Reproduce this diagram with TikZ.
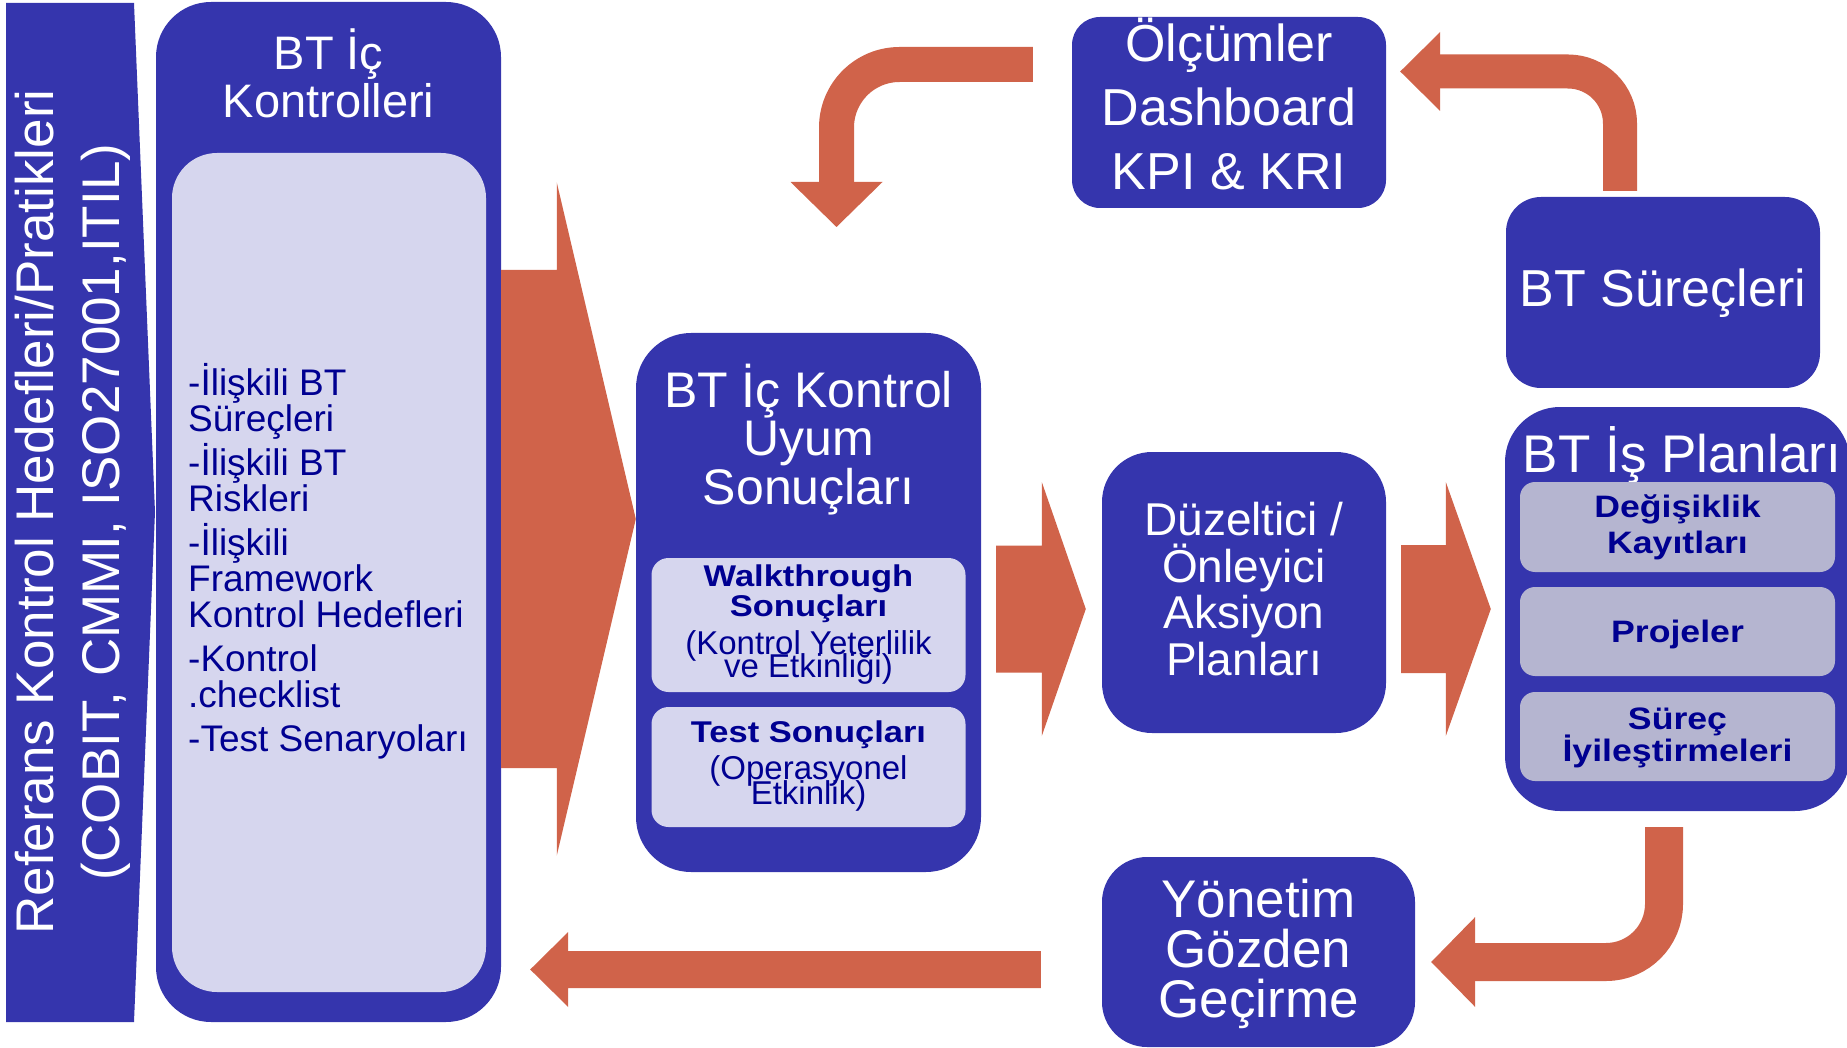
\documentclass[tikz,border=0pt]{standalone}
\usepackage{fontspec}
\setmainfont{Liberation Sans}
\newfontfamily\widebold[FakeStretch=1.15]{Liberation Sans}
\usetikzlibrary{calc}
\lineskiplimit=-100pt

\definecolor{boxblue}{RGB}{53,53,173}
\definecolor{paleblue}{RGB}{214,214,238}
\definecolor{greyblue}{RGB}{181,181,208}
\definecolor{textnavy}{RGB}{0,0,145}
\definecolor{flowred}{RGB}{208,99,74}

\tikzset{
  bluebox/.style={fill=boxblue, inner sep=0pt},
  palebox/.style={fill=paleblue, inner sep=0pt},
  greybox/.style={fill=greyblue, inner sep=0pt, rounded corners=15pt, minimum width=315pt, minimum height=89pt},
  whitetext/.style={text=white, align=center, inner sep=0pt},
  navytext/.style={text=textnavy, align=center, inner sep=0pt},
}

% straight block arrows: start, tip, half shaft, half head, head length
\newcommand{\flowright}[5]{%
  \fill[flowred] let \p1=(#1), \p2=(#2) in
    (\x1,\y2+#3) -- (\x2-#5,\y2+#3) -- (\x2-#5,\y2+#4) -- (\x2,\y2)
    -- (\x2-#5,\y2-#4) -- (\x2-#5,\y2-#3) -- (\x1,\y2-#3) -- cycle;}
\newcommand{\flowleft}[5]{%
  \fill[flowred] let \p1=(#1), \p2=(#2) in
    (\x1,\y2+#3) -- (\x2+#5,\y2+#3) -- (\x2+#5,\y2+#4) -- (\x2,\y2)
    -- (\x2+#5,\y2-#4) -- (\x2+#5,\y2-#3) -- (\x1,\y2-#3) -- cycle;}

\begin{document}
\begin{tikzpicture}[x=1pt, y=-1pt]
    \useasboundingbox (0,0) rectangle (1847,1048);

    % Referans seridi
    \fill[boxblue] (6,3) -- (134,3) -- (155,512) -- (134,1022) -- (6,1022) -- cycle;
    \node[whitetext, rotate=90, anchor=base, font=\fontsize{53}{60}\selectfont] (referans) at (53,512) {Referans Kontrol Hedefleri/Pratikleri};
    \node[whitetext, rotate=90, anchor=base, font=\fontsize{53}{60}\selectfont] (standart) at (119,512) {(COBIT, CMMI, ISO27001,ITIL)};

    % BT Ic Kontrolleri
    \node[bluebox, rounded corners=55pt, minimum width=345pt, minimum height=1020pt] (kontroller) at (328.5,512) {};
    \node[palebox, rounded corners=45pt, minimum width=314pt, minimum height=839pt] (kontrolliste) at (329,572.5) {};
    \node[whitetext, anchor=base, font=\fontsize{47}{48}\selectfont] (kontrolbaslik) at (328.5,118) {BT İç\\Kontrolleri};
    \node[navytext, align=left, anchor=base west, font=\fontsize{37}{36}\selectfont] (kontrolmadde) at (188,751) {-İlişkili BT\\Süreçleri\\[8pt]-İlişkili BT\\Riskleri\\[8pt]-İlişkili\\Framework\\Kontrol Hedefleri\\[8pt]-Kontrol\\.checklist\\[8pt]-Test Senaryoları};

    % BT Ic Kontrol Uyum Sonuclari
    \node[bluebox, rounded corners=55pt, minimum width=345pt, minimum height=539pt] (uyum) at (808.5,602.5) {};
    \node[whitetext, anchor=base, font=\fontsize{50}{48.5}\selectfont] (uyumbaslik) at (808.5,504) {BT İç Kontrol\\Uyum\\Sonuçları};
    \node[palebox, rounded corners=17pt, minimum width=314pt, minimum height=134pt] (walkthrough) at (808.5,625) {};
    \node[navytext, anchor=base, font=\widebold\bfseries\fontsize{30}{30}\selectfont] (walkbaslik) at (808.5,616) {Walkthrough\\Sonuçları};
    \node[navytext, anchor=base, font=\fontsize{33}{23}\selectfont] (walkaciklama) at (808.5,677) {(Kontrol Yeterlilik\\ve Etkinliği)};
    \node[palebox, rounded corners=17pt, minimum width=314pt, minimum height=120pt] (test) at (808.5,767) {};
    \node[navytext, anchor=base, font=\widebold\bfseries\fontsize{30}{28}\selectfont] (testbaslik) at (808.5,742) {Test Sonuçları};
    \node[navytext, anchor=base, font=\fontsize{33}{25}\selectfont] (testaciklama) at (808.5,804) {(Operasyonel\\Etkinlik)};

    % Duzeltici / Onleyici
    \node[bluebox, rounded corners=50pt, minimum width=284pt, minimum height=281pt] (duzeltici) at (1244,592.5) {};
    \node[whitetext, anchor=base, font=\fontsize{46}{46.5}\selectfont] (duzelticiyazi) at (1244,675) {Düzeltici /\\Önleyici\\Aksiyon\\Planları};

    % Olcumler
    \node[bluebox, rounded corners=28pt, minimum width=314pt, minimum height=191pt] (olcum) at (1229,112.5) {};
    \node[whitetext, anchor=base, font=\fontsize{52}{64}\selectfont] (olcumyazi) at (1229,190) {Ölçümler\\Dashboard\\KPI \& KRI};

    % BT Surecleri
    \node[bluebox, rounded corners=35pt, minimum width=314pt, minimum height=191pt] (surec) at (1663,292.5) {};
    \node[whitetext, anchor=base, font=\fontsize{52}{60}\selectfont] (surecyazi) at (1663,307) {BT Süreçleri};

    % BT Is Planlari
    \node[bluebox, rounded corners=55pt, minimum width=345pt, minimum height=404pt] (isplan) at (1677.5,609) {};
    \node[whitetext, anchor=base, font=\fontsize{53}{60}\selectfont] (isplanbaslik) at (1682,472) {BT İş Planları};
    \node[greybox, minimum height=90pt] (degisiklik) at (1677.5,527) {};
    \node[greybox] (projeler) at (1677.5,631.5) {};
    \node[greybox] (iyilestirme) at (1677.5,736.5) {};
    \node[navytext, anchor=base, font=\widebold\bfseries\fontsize{31}{36}\selectfont] (degisiklikyazi) at (1677.5,553) {Değişiklik\\Kayıtları};
    \node[navytext, anchor=base, font=\widebold\bfseries\fontsize{31}{34}\selectfont] (projeleryazi) at (1677.5,642) {Projeler};
    \node[navytext, anchor=base, font=\widebold\bfseries\fontsize{31}{32}\selectfont] (iyilestirmeyazi) at (1677.5,761) {Süreç\\İyileştirmeleri};

    % Yonetim Gozden Gecirme
    \node[bluebox, rounded corners=45pt, minimum width=313pt, minimum height=190pt] (yonetim) at (1258.5,952) {};
    \node[whitetext, anchor=base, font=\fontsize{53}{50}\selectfont] (yonetimyazi) at (1258.5,1017) {Yönetim\\Gözden\\Geçirme};

    % Oklar
    \flowright{kontroller.east}{$(uyum.west |- kontroller.east)+(0,7)$}{249pt}{336.5pt}{79pt}
    \flowright{$(uyum.east)+(15,0)$}{$(duzeltici.west)+(-16,16.5)$}{63.5pt}{127pt}{44pt}
    \flowright{$(duzeltici.east)+(15,0)$}{$(isplan.west)+(-14,0)$}{64pt}{127pt}{45pt}
    \flowleft{$(yonetim.west)+(-61,0)$}{$(kontroller.east |- yonetim.west)+(29,17.5)$}{18.5pt}{37.5pt}{38pt}

    \coordinate (olcumout) at ($(olcum.west)+(-39,-48)$);
    \coordinate (uyumin) at (836.5,227);
    \draw[flowred, line width=35pt, rounded corners=63pt] (olcumout) -| ($(uyumin)+(0,-45)$);
    \fill[flowred] ($(uyumin)+(-46,-45)$) -- ($(uyumin)+(46,-45)$) -- (uyumin) -- cycle;

    \coordinate (surecout) at ($(surec.north)+(-43,-6)$);
    \coordinate (olcumin) at ($(olcum.east)+(14,-41)$);
    \draw[flowred, line width=34pt, rounded corners=52pt] (surecout) |- ($(olcumin)+(40,0)$);
    \fill[flowred] ($(olcumin)+(40,-39.5)$) -- ($(olcumin)+(40,39.5)$) -- (olcumin) -- cycle;

    \coordinate (isplanout) at ($(isplan.south)+(-13.5,16)$);
    \coordinate (yonetimin) at ($(yonetim.east)+(16,10)$);
    \draw[flowred, line width=38pt, rounded corners=58pt] (isplanout) |- ($(yonetimin)+(44,0)$);
    \fill[flowred] ($(yonetimin)+(44,-45)$) -- ($(yonetimin)+(44,45)$) -- (yonetimin) -- cycle;
\end{tikzpicture}
\end{document}
